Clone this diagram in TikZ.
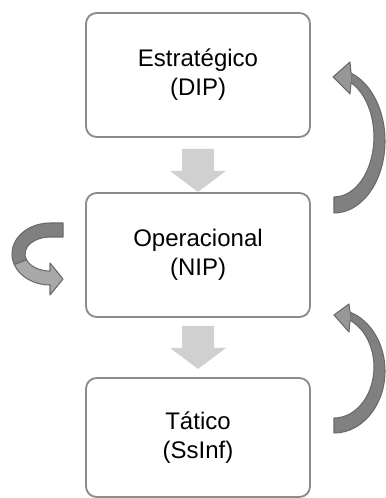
\documentclass[tikz,border=0pt]{standalone}
\usepackage{fontspec}
\setmainfont{Liberation Sans}
\usetikzlibrary{calc}
\definecolor{boxline}{HTML}{8C8C8C}
\definecolor{flowgray}{HTML}{D0D0D0}
\definecolor{loopfill}{HTML}{808080}
\definecolor{loophead}{HTML}{979797}
\definecolor{loopline}{HTML}{6A6A6A}
\definecolor{looplight}{HTML}{A8A8A8}
% block arrow between two levels: #1 = upper node, #2 = gap below it
\newcommand\flowdown[2]{%
  \fill[flow] ($(#1.south)+(-16,#2)$) -- ($(#1.south)+(16,#2)$)
    -- ($(#1.south)+(16,#2+22)$) -- ($(#1.south)+(28,#2+22)$)
    -- ($(#1.south)+(0,#2+43)$) -- ($(#1.south)+(-28,#2+22)$)
    -- ($(#1.south)+(-16,#2+22)$) -- cycle;}
\begin{document}
\begin{tikzpicture}[x=0.75pt,y=-0.75pt,
  level/.style={draw=boxline, line width=1.4pt, rounded corners=8pt, fill=white,
    minimum width=168pt, align=center, text=black,
    font=\fontsize{18}{21.6}\selectfont},
  flow/.style={fill=flowgray},
  loopband/.style={fill=loopfill, draw=loopline, line width=0.8pt, line join=round},
  loophd/.style={fill=loophead, draw=loopline, line width=0.8pt, line join=round},
  loopinner/.style={fill=looplight, draw=loopline, line width=0.8pt, line join=round}]
\useasboundingbox (0,0) rectangle (385,498);

% the three levels
\node[level, minimum height=93pt]    (est) at (198,75)    {Estratégico\\(DIP)};
\node[level, minimum height=93pt]    (ope) at (198,255)   {Operacional\\(NIP)};
\node[level, minimum height=89.25pt] (tat) at (198,437.5) {Tático\\(SsInf)};

% downward flow
\flowdown{est}{11}
\flowdown{ope}{8}

% feedback loop: operacional -> estratégico
\coordinate (c1) at (334,141);
\draw[loopband] ($(c1)+(0,72)$) arc[start angle=90, end angle=-70.5, x radius=51, y radius=72]
  -- ($(c1)+(17,-58.3)$)
  arc[start angle=-64.8, end angle=90, x radius=40, y radius=60] -- cycle;
\filldraw[loophd] ($(c1)+(17,-68)$) -- ($(c1)+(16,-79)$) -- ($(c1)+(-1,-64)$)
  -- ($(c1)+(16,-47)$) -- ($(c1)+(17,-58.3)$);

% feedback loop: tático -> operacional
\coordinate (c2) at (334,371);
\draw[loopband] ($(c2)+(0,62)$) arc[start angle=90, end angle=-71.7, x radius=51, y radius=62]
  -- ($(c2)+(16,-50.7)$)
  arc[start angle=-66.4, end angle=90, x radius=40, y radius=51] -- cycle;
\filldraw[loophd] ($(c2)+(16,-58.9)$) -- ($(c2)+(15,-67)$) -- ($(c2)+(0,-56)$)
  -- ($(c2)+(15,-39)$) -- ($(c2)+(16,-50.7)$);

% self loop on operacional
\coordinate (c3) at (50,254);
\draw[loopband] ($(c3)+(13,-31)$) -- ($(c3)+(0,-31)$)
  arc[start angle=-90, end angle=-200, x radius=38, y radius=31]
  -- ($(c3)+({25*cos(-200)},{17*sin(-200)})$)
  arc[start angle=-200, end angle=-90, x radius=25, y radius=17]
  -- ($(c3)+(13,-17)$) -- cycle;
\draw[loopinner] ($(c3)+({38*cos(160)},{31*sin(160)})$)
  arc[start angle=160, end angle=90, x radius=38, y radius=31]
  -- ($(c3)+(0,41)$) -- ($(c3)+(13,25)$) -- ($(c3)+(0,9)$) -- ($(c3)+(0,17)$)
  arc[start angle=90, end angle=160, x radius=25, y radius=17] -- cycle;
\end{tikzpicture}
\end{document}
